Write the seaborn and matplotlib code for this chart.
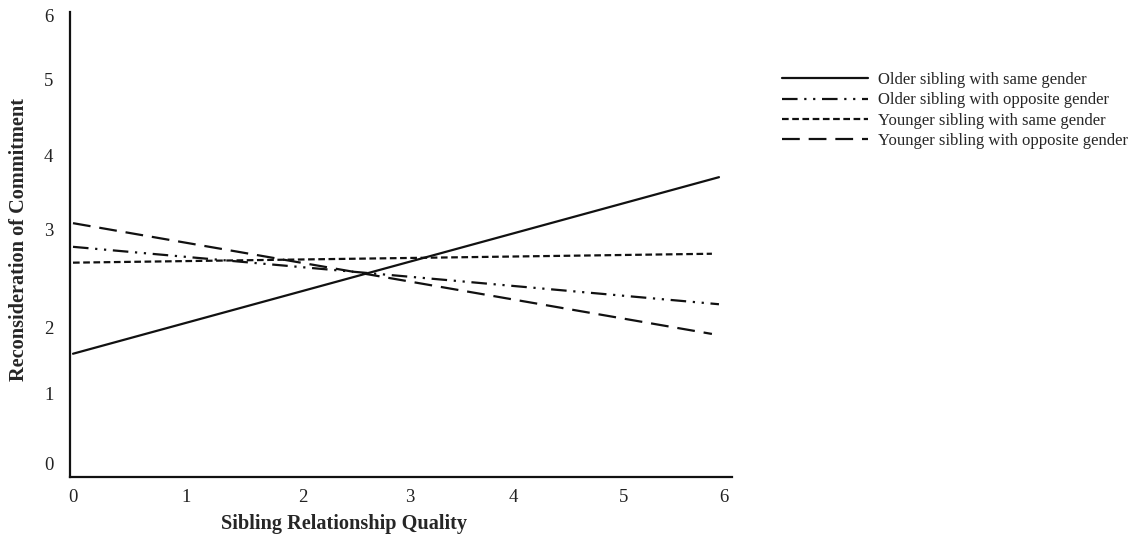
import numpy as np
import pandas as pd
import matplotlib
matplotlib.use("Agg")
import matplotlib.pyplot as plt
import seaborn as sns

# ---- data ----
series_names = [
    "Older sibling with same gender",
    "Older sibling with opposite gender",
    "Younger sibling with same gender",
    "Younger sibling with opposite gender",
]
quality_older = [0.0, 5.95]
quality_younger = [0.0, 5.88]
older_same = [1.61, 3.71]
older_opposite = [2.82, 2.24]
younger_same = [2.66, 2.75]
younger_opposite = [3.08, 1.91]
x_ticks = [0, 1, 2, 3, 4, 5, 6]
y_ticks = [0, 1, 2, 3, 4, 5, 6]

rows = []
for name, xs, ys in zip(series_names,
                        [quality_older, quality_older, quality_younger, quality_younger],
                        [older_same, older_opposite, younger_same, younger_opposite]):
    for xv, yv in zip(xs, ys):
        rows.append({"Sibling Relationship Quality": xv,
                     "Reconsideration of Commitment": yv,
                     "group": name})
df = pd.DataFrame(rows)

# ---- styling ----
sns.set_theme(style="white")
plt.rcParams["font.family"] = ["Liberation Serif", "DejaVu Serif"]

fig = plt.figure(figsize=(11.34, 5.35), dpi=100)
W, H = 1134, 535
ax = fig.add_axes([70 / W, 1 - 477 / H, (732 - 70) / W, (477 - 12) / H])

# non-uniform axis scales reproducing the reference's tick spacing
x_anchor_v = np.array([-1, 0, 1, 2, 3, 4, 5, 6, 7], dtype=float)
x_anchor_p = np.array([-41, 72, 185, 302, 409, 513, 623, 724, 825], dtype=float)
y_anchor_v = np.array([-1, 0, 1, 2, 3, 4, 5, 6, 7], dtype=float)
y_anchor_p = -np.array([534, 464, 394, 328, 229, 156, 79, 16, -47], dtype=float)

def xf(v):
    return np.interp(v, x_anchor_v, x_anchor_p)
def xi(u):
    return np.interp(u, x_anchor_p, x_anchor_v)
def yf(v):
    return np.interp(v, y_anchor_v, y_anchor_p)
def yi(u):
    return np.interp(u, y_anchor_p, y_anchor_v)

ax.set_xscale("function", functions=(xf, xi))
ax.set_yscale("function", functions=(yf, yi))

dashes = {
    series_names[0]: "",
    series_names[1]: (7, 3, 1, 3, 1, 3),
    series_names[2]: (3, 1.6),
    series_names[3]: (8, 4),
}
sns.lineplot(data=df, x="Sibling Relationship Quality", y="Reconsideration of Commitment",
             hue="group", style="group", hue_order=series_names, style_order=series_names,
             palette=["#111111"] * 4, dashes=dashes, linewidth=1.6, ax=ax,
             estimator=None, sort=True)

ax.set_xlim(xi(69), xi(732))
ax.set_ylim(yi(-477), yi(-12))
ax.set_xticks(x_ticks)
ax.set_yticks(y_ticks)
ax.set_xticklabels([str(t) for t in x_ticks])
ax.set_yticklabels([str(t) for t in y_ticks])
ax.tick_params(axis="both", length=0, labelsize=13.5, colors="#222222")
ax.tick_params(axis="x", pad=9)
ax.tick_params(axis="y", pad=12)

for s in ["top", "right"]:
    ax.spines[s].set_visible(False)
for s in ["left", "bottom"]:
    ax.spines[s].set_color("#111111")
    ax.spines[s].set_linewidth(1.6)

ax.set_xlabel("Sibling Relationship Quality", fontsize=14.6, fontweight="bold")
ax.set_ylabel("Reconsideration of Commitment", fontsize=14.6, fontweight="bold")
ax.xaxis.set_label_coords((344 - 70) / (732 - 70), -(514 - 477) / (477 - 12))
ax.yaxis.set_label_coords(-(70 - 29) / (732 - 70), 0.51)

leg = ax.legend(loc="upper left", bbox_to_anchor=(782 / W, 1 - 72 / H),
                bbox_transform=fig.transFigure, frameon=False, fontsize=12,
                handlelength=5.15, handletextpad=0.6, labelspacing=0.26,
                borderpad=0, borderaxespad=0)
for line in leg.get_lines():
    line.set_linewidth(1.6)

fig.savefig("out.png", dpi=100, facecolor="white")
